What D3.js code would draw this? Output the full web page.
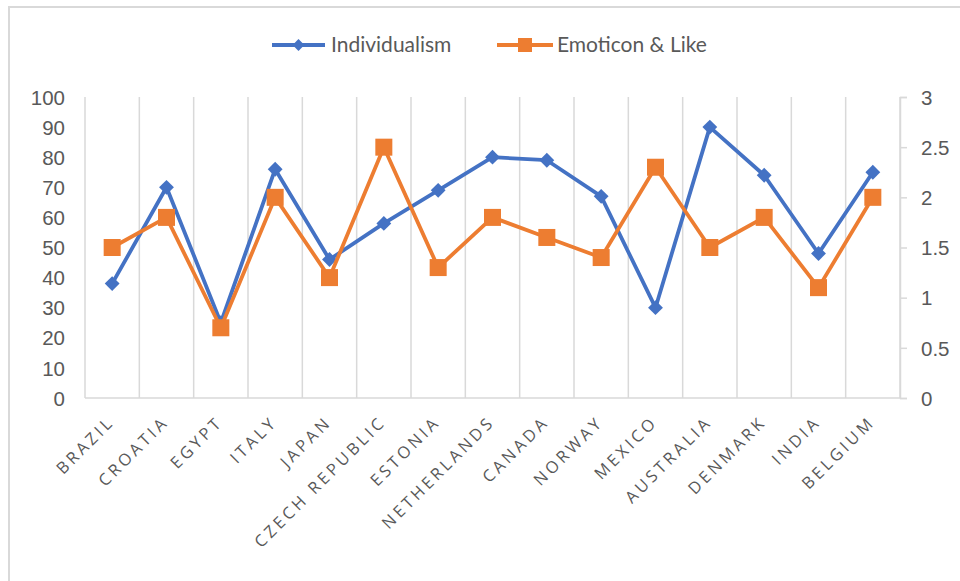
<!DOCTYPE html>
<html lang="en">
<head>
<meta charset="UTF-8">
<title>Individualism vs Emoticon & Like</title>
<script src="https://d3js.org/d3.v7.min.js"></script>
<style>
body { margin: 0; background: #fff; font-family: Lato, "Open Sans", sans-serif; }
.tick text { fill: #595959; }
</style>
</head>
<body>
<div id="chart"></div>
<script>
// data
var countries = ["BRAZIL", "CROATIA", "EGYPT", "ITALY", "JAPAN", "CZECH REPUBLIC", "ESTONIA",
  "NETHERLANDS", "CANADA", "NORWAY", "MEXICO", "AUSTRALIA", "DENMARK", "INDIA", "BELGIUM"];
var individualism = [38, 70, 25, 76, 46, 58, 69, 80, 79, 67, 30, 90, 74, 48, 75];
var emoticonLike = [1.5, 1.8, 0.7, 2.0, 1.2, 2.5, 1.3, 1.8, 1.6, 1.4, 2.3, 1.5, 1.8, 1.1, 2.0];
var leftTicks = [0, 10, 20, 30, 40, 50, 60, 70, 80, 90, 100];
var rightTicks = [0, 0.5, 1, 1.5, 2, 2.5, 3];

var W = 960, H = 581;
var margin = {top: 97, right: 60, bottom: 183, left: 85};
var width = W - margin.left - margin.right,
    height = H - margin.top - margin.bottom;

var blue = "#4472C4", orange = "#ED7D31", grid = "#d9d9d9";

var svg = d3.select("#chart").append("svg")
  .attr("width", W).attr("height", H);

// outer chart frame
svg.append("rect")
  .attr("x", 9).attr("y", 7)
  .attr("width", W + 20).attr("height", H + 20)
  .attr("fill", "none").attr("stroke", grid).attr("stroke-width", 2);

var g = svg.append("g")
  .attr("transform", "translate(" + margin.left + "," + margin.top + ")");

var x = d3.scaleBand().domain(countries).range([0, width]);
var yL = d3.scaleLinear().domain([0, 100]).range([height, 0]);
var yR = d3.scaleLinear().domain([0, 3]).range([height, 0]);

// vertical gridlines on category boundaries
g.append("g").selectAll("line")
  .data(d3.range(countries.length + 1))
  .enter().append("line")
    .attr("x1", function(i) { return i * x.bandwidth(); })
    .attr("x2", function(i) { return i * x.bandwidth(); })
    .attr("y1", 0).attr("y2", height)
    .attr("stroke", grid).attr("stroke-width", 1.5);

// bottom line
g.append("line")
  .attr("x1", 0).attr("x2", width)
  .attr("y1", height).attr("y2", height)
  .attr("stroke", grid).attr("stroke-width", 1.5);

// left axis (no line)
var left = g.append("g")
  .call(d3.axisLeft(yL).tickValues(leftTicks).tickSize(0).tickPadding(20));
left.select(".domain").remove();
left.selectAll("text").style("font-size", "20.5px").attr("dy", "0.35em");

// right axis
var right = g.append("g")
  .attr("transform", "translate(" + width + ",0)")
  .call(d3.axisRight(yR).tickValues(rightTicks).tickSize(7).tickPadding(14)
    .tickFormat(function(d) { return d; }));
right.select(".domain").attr("stroke", grid).attr("stroke-width", 1.5);
right.selectAll("line").attr("stroke", grid).attr("stroke-width", 1.5);
right.selectAll("text").style("font-size", "20.5px").attr("dy", "0.35em");

// category labels
var bottom = g.append("g")
  .attr("transform", "translate(0," + height + ")")
  .call(d3.axisBottom(x).tickSize(0));
bottom.select(".domain").remove();
bottom.selectAll("text")
  .style("font-family", "'Open Sans', sans-serif")
  .style("font-size", "16.5px")
  .style("letter-spacing", "3.3px")
  .attr("text-anchor", "end")
  .attr("dy", 0)
  .attr("transform", "translate(1,23) rotate(-45)");

// lines
var lineL = d3.line()
  .x(function(d, i) { return x(countries[i]) + x.bandwidth() / 2; })
  .y(function(d) { return yL(d); });
var lineR = d3.line()
  .x(function(d, i) { return x(countries[i]) + x.bandwidth() / 2; })
  .y(function(d) { return yR(d); });

g.append("path").datum(individualism)
  .attr("d", lineL).attr("fill", "none")
  .attr("stroke", blue).attr("stroke-width", 3.8).attr("stroke-linejoin", "round");

g.append("g").selectAll("path")
  .data(individualism).enter().append("path")
    .attr("d", d3.symbol(d3.symbolSquare, 110))
    .attr("transform", function(d, i) {
      return "translate(" + (x(countries[i]) + x.bandwidth() / 2) + "," + yL(d) + ") rotate(45)";
    })
    .attr("fill", blue);

g.append("path").datum(emoticonLike)
  .attr("d", lineR).attr("fill", "none")
  .attr("stroke", orange).attr("stroke-width", 3.8).attr("stroke-linejoin", "round");

g.append("g").selectAll("rect")
  .data(emoticonLike).enter().append("rect")
    .attr("x", function(d, i) { return x(countries[i]) + x.bandwidth() / 2 - 8.5; })
    .attr("y", function(d) { return yR(d) - 8.5; })
    .attr("width", 17).attr("height", 17)
    .attr("fill", orange);

// legend
var legend = svg.append("g").attr("transform", "translate(0,45)");
legend.append("line").attr("x1", 272).attr("x2", 325)
  .attr("stroke", blue).attr("stroke-width", 3.8);
legend.append("path").attr("d", d3.symbol(d3.symbolSquare, 70))
  .attr("transform", "translate(298.5,0) rotate(45)").attr("fill", blue);
legend.append("text").attr("x", 331).attr("dy", "0.35em")
  .style("font-size", "21px").attr("fill", "#595959").text("Individualism");

legend.append("line").attr("x1", 497).attr("x2", 553)
  .attr("stroke", orange).attr("stroke-width", 3.8);
legend.append("rect").attr("x", 518).attr("y", -7)
  .attr("width", 14).attr("height", 14).attr("fill", orange);
legend.append("text").attr("x", 557).attr("dy", "0.35em")
  .style("font-size", "21px").attr("fill", "#595959").text("Emoticon & Like");
</script>
</body>
</html>
